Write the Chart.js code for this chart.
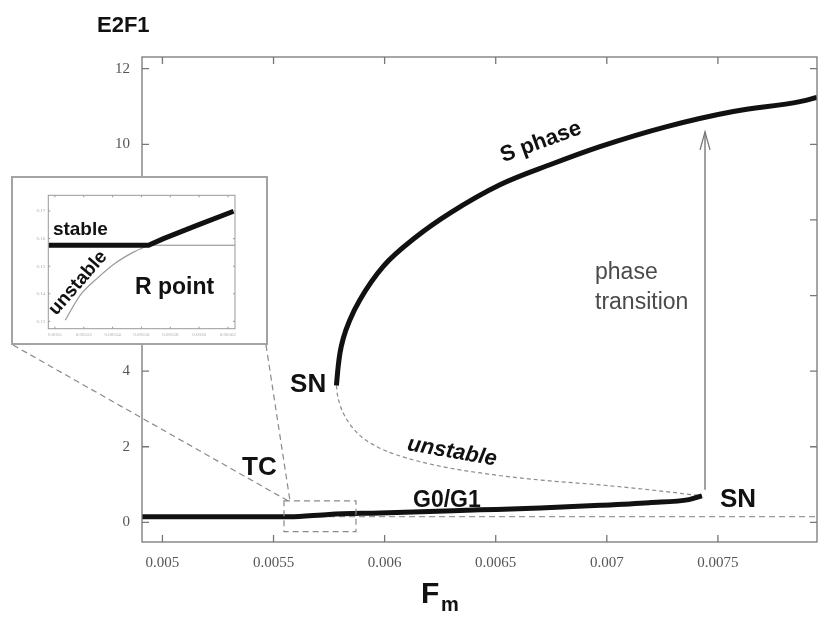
<!DOCTYPE html>
<html>
<head>
<meta charset="utf-8">
<script src="https://cdn.jsdelivr.net/npm/chart.js@4/dist/chart.umd.min.js"></script>
<style>
  html, body { margin: 0; padding: 0; background: #fff; }
  #wrap { position: relative; width: 821px; height: 618px; overflow: hidden; background: #fff; }
  #main { position: absolute; left: 0; top: 0; }
  #insetBox { position: absolute; left: 11px; top: 176px; width: 257px; height: 169px;
              box-sizing: border-box; border: 2px solid #a3a3a3; background: #fff; }
  #inset { position: absolute; left: 0; top: 0; }
</style>
</head>
<body>
<div id="wrap">
  <canvas id="main" width="821" height="618"></canvas>
  <div id="insetBox"><canvas id="inset" width="253" height="165"></canvas></div>
</div>
<script>
// ---------------- main chart data ----------------
const xTickValues = [0.005, 0.0055, 0.006, 0.0065, 0.007, 0.0075];
const xTickLabels = ['0.005', '0.0055', '0.006', '0.0065', '0.007', '0.0075'];
const yTickValues = [0, 2, 4, 6, 8, 10, 12];
const yTickLabels = ['0', '2', '4', '6', '8', '10', '12'];

// upper stable branch (S phase)
const sPhaseF    = [0.005783, 0.005791, 0.005799, 0.005814, 0.005844, 0.005889, 0.005994, 0.006144, 0.006294, 0.006519, 0.006744, 0.006969, 0.007270, 0.007569, 0.007869, 0.007946];
const sPhaseE2F1 = [3.62,     4.12,     4.48,     4.87,     5.36,     5.89,     6.77,     7.56,     8.18,     8.93,     9.46,     9.94,     10.47,    10.87,    11.13,    11.24];

// middle unstable branch
const unstableF    = [0.005783, 0.005787, 0.005797, 0.005813, 0.005876, 0.005966, 0.006083, 0.006263, 0.006488, 0.006700, 0.006970, 0.007195, 0.007428];
const unstableE2F1 = [3.62,     3.40,     3.15,     2.90,     2.37,     2.00,     1.73,     1.47,     1.26,     1.12,     0.99,     0.86,     0.70];

// lower stable branch (G0/G1)
const g0g1F    = [0.004908, 0.00557, 0.00575, 0.00598, 0.00620, 0.00643, 0.00670, 0.00697, 0.00719, 0.00737, 0.007428];
const g0g1E2F1 = [0.15,     0.15,    0.21,    0.25,    0.29,    0.33,    0.38,    0.45,    0.52,    0.60,    0.70];

// trivial branch after TC (unstable, dashed)
const trivialF    = [0.00557, 0.007946];
const trivialE2F1 = [0.15, 0.15];

// phase transition arrow
const arrowF    = [0.007442, 0.007442];
const arrowE2F1 = [0.86, 10.33];

// zoom box around TC
const boxF    = [0.005547, 0.005871];
const boxE2F1 = [-0.243, 0.569];

// ---------------- inset data ----------------
const insetXTickValues = [0.0055, 0.00552, 0.00554, 0.00556, 0.00558, 0.0056, 0.00562];
const insetXTickLabels = ['0.0055', '0.00552', '0.00554', '0.00556', '0.00558', '0.0056', '0.00562'];
const insetYTickValues = [0.13, 0.14, 0.15, 0.16, 0.17];
const insetYTickLabels = ['0.13', '0.14', '0.15', '0.16', '0.17'];

const insetStableX = [0.0054954, 0.0055649, 0.0055753, 0.0055985, 0.0056239];
const insetStableY = [0.1576,    0.1576,    0.1600,    0.1648,    0.1699];
const insetUnstableX = [0.0055071, 0.0055176, 0.0055291, 0.0055430, 0.0055545, 0.0055649];
const insetUnstableY = [0.1304,    0.1395,    0.1455,    0.1515,    0.1551,    0.1576];
const insetLineX = [0.0055649, 0.0056249];
const insetLineY = [0.1576, 0.1576];

// ---------------- helpers ----------------
const zip = (xs, ys) => xs.map((v, i) => ({ x: v, y: ys[i] }));
const SANS = '"Liberation Sans", Arial, Helvetica, sans-serif';
const SERIF = '"Liberation Serif", "Times New Roman", serif';

function drawLabel(ctx, t, px, py) {
  ctx.save();
  ctx.translate(px, py);
  ctx.rotate((t.rot || 0) * Math.PI / 180);
  ctx.font = t.font;
  ctx.fillStyle = t.color || '#111';
  ctx.textAlign = t.align || 'left';
  ctx.textBaseline = t.baseline || 'alphabetic';
  ctx.fillText(t.text, 0, 0);
  ctx.restore();
}

function frameAndTicks(chart, xv, yv, len, color, lw) {
  const { ctx, chartArea: a, scales: { x, y } } = chart;
  ctx.save();
  ctx.strokeStyle = color; ctx.lineWidth = lw; ctx.setLineDash([]);
  ctx.strokeRect(a.left, a.top, a.right - a.left, a.bottom - a.top);
  ctx.beginPath();
  xv.forEach(v => {
    const p = x.getPixelForValue(v);
    ctx.moveTo(p, a.bottom); ctx.lineTo(p, a.bottom - len);
    ctx.moveTo(p, a.top); ctx.lineTo(p, a.top + len);
  });
  yv.forEach(v => {
    const p = y.getPixelForValue(v);
    ctx.moveTo(a.left, p); ctx.lineTo(a.left + len, p);
    ctx.moveTo(a.right, p); ctx.lineTo(a.right - len, p);
  });
  ctx.stroke();
  ctx.restore();
}

// ---------------- main chart annotations ----------------
const mainLabels = [
  { text: 'S phase', F: 0.0067128, v: 9.907, rot: -20, font: 'bold 22px ' + SANS, align: 'center' },
  { text: 'phase', F: 0.0069469, v: 6.44, font: '23px ' + SANS, color: '#4a4a4a' },
  { text: 'transition', F: 0.0069469, v: 5.64, font: '23px ' + SANS, color: '#4a4a4a' },
  { text: 'SN', F: 0.0055743, v: 3.452, font: 'bold 26px ' + SANS },
  { text: 'SN', F: 0.0075094, v: 0.41, font: 'bold 26px ' + SANS },
  { text: 'TC', F: 0.0053582, v: 1.257, font: 'bold 26px ' + SANS },
  { text: 'G0/G1', F: 0.0061278, v: 0.41, font: 'bold 23px ' + SANS },
  { text: 'unstable', F: 0.0063033, v: 1.865, rot: 10, font: 'italic bold 22px ' + SANS, align: 'center', baseline: 'middle' }
];

const mainOverlay = {
  id: 'mainOverlay',
  afterDatasetsDraw(chart) {
    const { ctx, scales: { x, y } } = chart;
    // dashed zoom box
    const bx0 = x.getPixelForValue(boxF[0]), bx1 = x.getPixelForValue(boxF[1]);
    const byT = y.getPixelForValue(boxE2F1[1]), byB = y.getPixelForValue(boxE2F1[0]);
    ctx.save();
    ctx.strokeStyle = '#8a8a8a'; ctx.lineWidth = 1.2; ctx.setLineDash([6, 4]);
    ctx.strokeRect(bx0, byT, bx1 - bx0, byB - byT);
    // zoom lines from the inset corners
    ctx.beginPath();
    ctx.moveTo(13, 345); ctx.lineTo(bx0 + 4, byT);
    ctx.moveTo(266, 345); ctx.lineTo(bx0 + 6, byT);
    ctx.stroke();
    ctx.restore();

    frameAndTicks(chart, xTickValues, yTickValues, 7, '#777', 1.3);

    // arrow head
    const ax = x.getPixelForValue(arrowF[1]), ay = y.getPixelForValue(arrowE2F1[1]);
    ctx.save();
    ctx.strokeStyle = '#777'; ctx.lineWidth = 1.3; ctx.setLineDash([]);
    ctx.beginPath();
    ctx.moveTo(ax - 5, ay + 18); ctx.lineTo(ax, ay); ctx.lineTo(ax + 5, ay + 18);
    ctx.stroke();
    ctx.restore();

    mainLabels.forEach(t => drawLabel(ctx, t, x.getPixelForValue(t.F), y.getPixelForValue(t.v)));

    // axis titles
    drawLabel(ctx, { text: 'E2F1', font: 'bold 22px ' + SANS }, 97, 32);
    drawLabel(ctx, { text: 'F', font: 'bold 30px ' + SANS }, 421, 603);
    drawLabel(ctx, { text: 'm', font: 'bold 20px ' + SANS }, 441, 611);
  }
};

new Chart(document.getElementById('main'), {
  type: 'scatter',
  data: {
    datasets: [
      { data: zip(sPhaseF, sPhaseE2F1), showLine: true, borderColor: '#111', borderWidth: 5,
        pointRadius: 0, cubicInterpolationMode: 'monotone', borderCapStyle: 'butt' },
      { data: zip(g0g1F, g0g1E2F1), showLine: true, borderColor: '#111', borderWidth: 5,
        pointRadius: 0, cubicInterpolationMode: 'monotone' },
      { data: zip(unstableF, unstableE2F1), showLine: true, borderColor: '#8c8c8c', borderWidth: 1.2,
        borderDash: [4, 3], pointRadius: 0, cubicInterpolationMode: 'monotone' },
      { data: zip(trivialF, trivialE2F1), showLine: true, borderColor: '#999', borderWidth: 1.1,
        borderDash: [6, 4], pointRadius: 0 },
      { data: zip(arrowF, arrowE2F1), showLine: true, borderColor: '#777', borderWidth: 1.4,
        pointRadius: 0 }
    ]
  },
  options: {
    responsive: false, animation: false, devicePixelRatio: 1,
    layout: { padding: { left: 0, right: 4, top: 57, bottom: 0 } },
    plugins: { legend: { display: false }, tooltip: { enabled: false } },
    events: [],
    scales: {
      x: {
        type: 'linear', min: 0.004908, max: 0.007946,
        grid: { display: false, drawTicks: false }, border: { display: false },
        afterBuildTicks: (axis) => { axis.ticks = xTickValues.map(v => ({ value: v })); },
        afterFit: (s) => { s.height = 76; },
        ticks: { autoSkip: false, maxRotation: 0, padding: 12, color: '#555',
                 font: { family: SERIF, size: 15 },
                 callback: (v, i) => xTickLabels[i] }
      },
      y: {
        type: 'linear', min: -0.52, max: 12.31,
        grid: { display: false, drawTicks: false }, border: { display: false },
        afterBuildTicks: (axis) => { axis.ticks = yTickValues.map(v => ({ value: v })); },
        afterFit: (s) => { s.width = 142; },
        ticks: { autoSkip: false, padding: 12, color: '#555',
                 font: { family: SERIF, size: 15 },
                 callback: (v, i) => yTickLabels[i] }
      }
    }
  },
  plugins: [mainOverlay]
});

// ---------------- inset chart ----------------
const insetLabels = [
  { text: 'stable', X: 0.0054986, Y: 0.1613, font: 'bold 19px ' + SANS },
  { text: 'R point', X: 0.0055555, Y: 0.13993, font: 'bold 23px ' + SANS },
  { text: 'unstable', X: 0.005516, Y: 0.14391, rot: -49, font: 'bold 19px ' + SANS, align: 'center', baseline: 'middle' }
];

const insetOverlay = {
  id: 'insetOverlay',
  afterDatasetsDraw(chart) {
    const { ctx, scales: { x, y } } = chart;
    frameAndTicks(chart, insetXTickValues, insetYTickValues, 2, '#999', 1);
    insetLabels.forEach(t => drawLabel(ctx, t, x.getPixelForValue(t.X), y.getPixelForValue(t.Y)));
  }
};

new Chart(document.getElementById('inset'), {
  type: 'scatter',
  data: {
    datasets: [
      { data: zip(insetStableX, insetStableY), showLine: true, borderColor: '#111', borderWidth: 5,
        pointRadius: 0 },
      { data: zip(insetUnstableX, insetUnstableY), showLine: true, borderColor: '#999', borderWidth: 1.2,
        pointRadius: 0, cubicInterpolationMode: 'monotone' },
      { data: zip(insetLineX, insetLineY), showLine: true, borderColor: '#888', borderWidth: 1,
        pointRadius: 0 }
    ]
  },
  options: {
    responsive: false, animation: false, devicePixelRatio: 1,
    layout: { padding: { left: 0, right: 31, top: 17.3, bottom: 0 } },
    plugins: { legend: { display: false }, tooltip: { enabled: false } },
    events: [],
    scales: {
      x: {
        type: 'linear', min: 0.0054954, max: 0.0056249,
        grid: { display: false, drawTicks: false }, border: { display: false },
        afterBuildTicks: (axis) => { axis.ticks = insetXTickValues.map(v => ({ value: v })); },
        afterFit: (s) => { s.height = 14.3; },
        ticks: { autoSkip: false, maxRotation: 0, padding: 3, color: '#aaa',
                 font: { family: SERIF, size: 5 },
                 callback: (v, i) => insetXTickLabels[i] }
      },
      y: {
        type: 'linear', min: 0.12735, max: 0.17569,
        grid: { display: false, drawTicks: false }, border: { display: false },
        afterBuildTicks: (axis) => { axis.ticks = insetYTickValues.map(v => ({ value: v })); },
        afterFit: (s) => { s.width = 35.3; },
        ticks: { autoSkip: false, padding: 3, color: '#aaa',
                 font: { family: SERIF, size: 5 },
                 callback: (v, i) => insetYTickLabels[i] }
      }
    }
  },
  plugins: [insetOverlay]
});
</script>
</body>
</html>
